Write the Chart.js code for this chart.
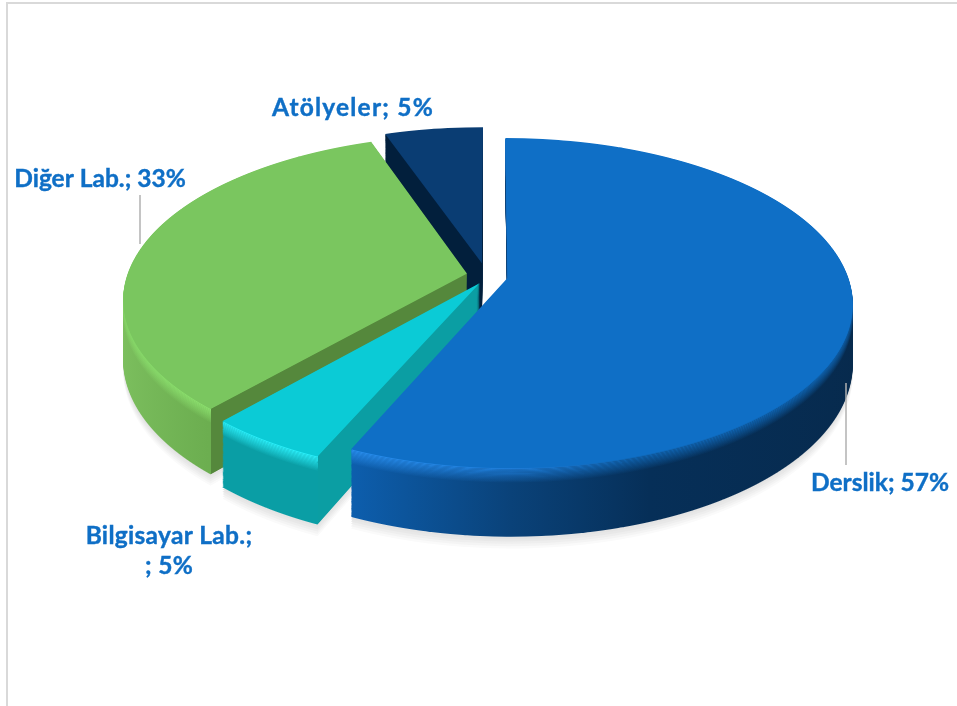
<!DOCTYPE html>
<html lang="tr">
<head>
<meta charset="utf-8">
<title>Derslik dağılımı</title>
<script src="https://cdn.jsdelivr.net/npm/chart.js@4"></script>
<style>
  html, body { margin: 0; background: #fff; overflow: hidden; }
  #frame { position: absolute; left: 6px; top: 2px; width: 951px; height: 704px; border-left: 2px solid #d9d9d9; border-top: 2px solid #d9d9d9; box-sizing: border-box; }
  #grafik { position: absolute; left: 0; top: 0; }
</style>
</head>
<body>
<div id="frame"></div>
<canvas id="grafik" width="957" height="706"></canvas>
<script>
const categories = ["Derslik", "Bilgisayar Lab.", "Diğer Lab.", "Atölyeler"];
const values = [56.6, 4.9, 33.1, 5.4];

// top surface colours
const topColors = ["#0f6fc6", "#0bcbd6", "#7ac65f", "#0a3d73"];
// how far each slice is pulled out of the pie, x and y as share of the radius
const explode = [[0.052, 0.011], [-0.03, 0.044], [-0.068, -0.015], [-0.024, -0.08]];

// side wall colours, stops run along the pie width from -1 to 1
const wallStops = [
  [[-1, "#0d5ead"], [-0.4, "#0d5ead"], [0, "#0a4279"], [0.35, "#062f58"], [1, "#072a4d"]],
  [[-1, "#0a9ea5"], [1, "#0a9ea5"]],
  [[-1, "#7dc05f"], [-0.67, "#6cae50"]],
  [[-1, "#021f3c"], [1, "#021f3c"]]
];
const bevelStops = [
  [[-1, "#2a90f0"], [-0.4, "#2a90f0"], [0, "#1f80de"], [0.3, "#1169b9"], [1, "#0f6fc6"]],
  [[-1, "#2df4ff"], [1, "#2df4ff"]],
  [[-1, "#8ae06c"], [-0.67, "#8fe571"]],
  [[-1, "#0a3d73"], [1, "#0a3d73"]]
];
// cut face seen below a slice, null when it is hidden
const cutColors = [null, "#0b9ea3", "#55883c", "#021f3c"];
const drawOrder = [3, 2, 1, 0];

// camera
const cam = { x: 490, y: 276, a: 340, b: 160.6, p: 0.153, depth: 58 };

const labelFont = "bold 24.5px Lato";
const labelColor = "#0f6fc6";
const leaders = [[140, 195, 140, 244], [846, 383, 846, 465]];
const labelSpots = [
  { lines: 1, x: 880, y: 491, gap: 0 },
  { lines: 2, x: 169, y: 544, gap: 0.3 },
  { lines: 1, x: 100, y: 187, gap: 0 },
  { lines: 1, x: 353, y: 116, gap: 1.2 }
];

function makeFill(ctx, arc, stops, cut) {
  const R = arc.outerRadius;
  const g = ctx.createLinearGradient(arc.x - R, 0, arc.x + R, 0);
  const limit = cut ? Math.cos(arc.startAngle) : 2;
  let last = stops[0][1];
  stops.forEach(([p, c]) => {
    if (p < limit) { g.addColorStop((p + 1) / 2, c); last = c; }
  });
  if (cut) {
    g.addColorStop((limit + 1) / 2, last);
    g.addColorStop((limit + 1) / 2, cut);
  }
  return g;
}

// every pixel row gets its own transform, that gives the perspective of the flat pie
const piePerspective = {
  id: "piePerspective",
  beforeDatasetsDraw(chart) {
    const ctx = chart.ctx;
    const arcs = chart.getDatasetMeta(0).data;
    const R = arcs[0].outerRadius;
    const cx = arcs[0].x, cy = arcs[0].y;

    const slices = arcs.map((arc, i) => {
      const el = Object.create(arc);
      el.options = { ...arc.options, borderWidth: 0, offset: 0, spacing: 0 };
      return {
        el,
        dx: explode[i][0] * R,
        dy: explode[i][1] * R,
        top: topColors[i],
        wall: makeFill(ctx, arc, wallStops[i], cutColors[i]),
        bevel: makeFill(ctx, arc, bevelStops[i], cutColors[i])
      };
    });

    const paint = (s, h, fill, alpha, row) => {
      const w = row + 0.5 - cam.y;
      const v = (w - h) / (cam.b + cam.p * w);
      const local = v - s.dy / R;
      if (Math.abs(local) > 1.02) return;
      const k = 1 / (1 - cam.p * v);
      const a = cam.a * k / R;
      const d = (cam.b + cam.p * h) * k * k / R;
      ctx.setTransform(a, 0, 0, d, cam.x - a * cx, row + 0.5 - d * (cy + R * v));
      ctx.translate(s.dx, s.dy);
      ctx.globalAlpha = alpha;
      s.el.options.backgroundColor = fill;
      s.el.draw(ctx);
      ctx.globalAlpha = 1;
    };

    for (let row = 110; row < 570; row++) {
      ctx.save();
      ctx.setTransform(1, 0, 0, 1, 0, 0);
      ctx.beginPath();
      ctx.rect(0, row, chart.width, 1);
      ctx.clip();

      // soft shadow below the pie
      ["#fafafa", "#f4f4f4", "#eeeeee", "#e8e8e8", "#e4e4e4"].forEach((c, n) => {
        slices.forEach(s => paint(s, cam.depth + 10 - n * 2, c, 1, row));
      });

      drawOrder.forEach(i => {
        const s = slices[i];
        for (let h = cam.depth; h > 0; h--) {
          paint(s, h, s.wall, 1, row);
          if (h <= 12) paint(s, h, s.bevel, 1 - h / 13, row);
        }
        paint(s, 0, s.top, 1, row);
      });
      ctx.restore();
    }
    return false;
  },
  afterDraw(chart) {
    const ctx = chart.ctx;
    ctx.save();
    ctx.strokeStyle = "#b0b0b0";
    ctx.lineWidth = 1.5;
    leaders.forEach(([x1, y1, x2, y2]) => {
      ctx.beginPath();
      ctx.moveTo(x1, y1);
      ctx.lineTo(x2, y2);
      ctx.stroke();
    });
    ctx.font = labelFont;
    ctx.fillStyle = labelColor;
    ctx.strokeStyle = labelColor;
    ctx.lineWidth = 0.4;
    ctx.textAlign = "center";
    ctx.textBaseline = "alphabetic";
    const put = (text, x, y) => {
      ctx.fillText(text, x, y);
      ctx.strokeText(text, x, y);
    };
    categories.forEach((name, i) => {
      const pct = Math.round(values[i]) + "%";
      const spot = labelSpots[i];
      ctx.letterSpacing = spot.gap + "px";
      if (spot.lines > 1) {
        put(name + ";", spot.x, spot.y);
        put("; " + pct, spot.x, spot.y + 30);
      } else {
        put(name + "; " + pct, spot.x, spot.y);
      }
    });
    ctx.restore();
  }
};

new Chart(document.getElementById("grafik"), {
  type: "pie",
  data: {
    labels: categories,
    datasets: [{ data: values, backgroundColor: topColors, borderWidth: 0 }]
  },
  options: {
    responsive: false,
    animation: false,
    events: [],
    plugins: { legend: { display: false }, tooltip: { enabled: false } }
  },
  plugins: [piePerspective]
});
</script>
</body>
</html>
